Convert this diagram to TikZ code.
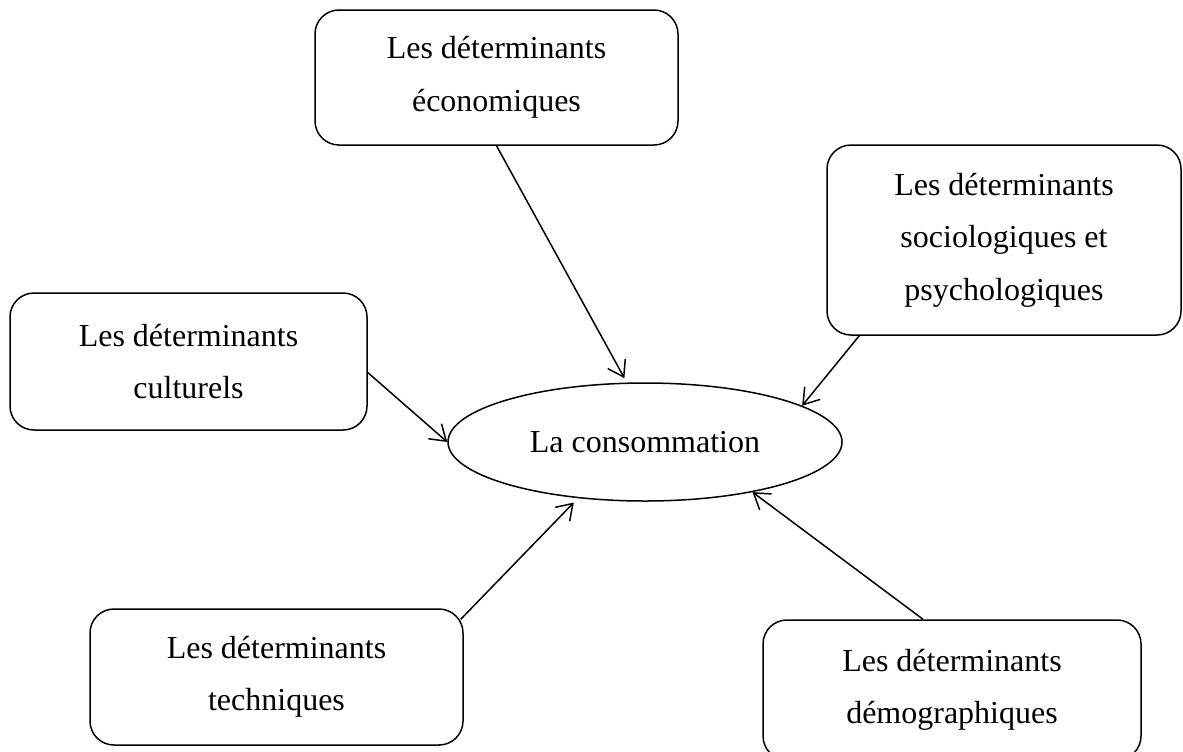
\documentclass[tikz,border=0pt]{standalone}
\usepackage{fontspec}
\setmainfont{Liberation Serif}
\usetikzlibrary{arrows.meta,shapes.geometric}

\begin{document}
\begin{tikzpicture}[>={Straight Barb[length=7.5pt,width=10pt]}, line width=0.75pt, x=0.5pt, y=-0.5pt,
		box/.style={draw, rounded corners=12pt, align=center, inner sep=0pt, font=\fontsize{16}{26.25}\selectfont},
		centro/.style={draw, ellipse, inner sep=0pt, font=\fontsize{16}{26.25}\selectfont}]
			% Definizioni per la pagina (in pixel)
			\def\W{1183}
			\def\H{751}
			\useasboundingbox (0,0) rectangle (\W,\H);
			
			% --- Nodi ---
			\node[box, minimum width=181.5pt, minimum height=67.5pt] (eco) at (496.5,77.5) {Les déterminants\\économiques};
			\node[box, minimum width=177pt, minimum height=95pt] (soc) at (1004,240) {Les déterminants\\sociologiques et\\psychologiques};
			\node[box, minimum width=178.5pt, minimum height=68.5pt] (cul) at (188.5,361.5) {Les déterminants\\culturels};
			\node[box, minimum width=186.5pt, minimum height=68pt] (tec) at (276.5,677) {Les déterminants\\techniques};
			\node[box, minimum width=189pt, minimum height=70pt] (dem) at (952,690) {Les déterminants\\démographiques};
			
			% --- Centro ---
			\node[centro, minimum width=197pt, minimum height=59pt] (cons) at (645,442) {La consommation};
			
			% --- Frecce ---
			\draw[->, shorten >=2.5pt] (eco.south) -- (cons.107);
			\draw[->] ([xshift=16.5pt]soc.south west) -- (cons.13);
			\draw[->] ([yshift=-5.5pt]cul.east) -- (cons.west);
			\draw[->, shorten >=3pt] ([xshift=-1.5pt,yshift=-5.5pt]tec.north east) -- (cons.220);
			\draw[->] ([xshift=-14.5pt]dem.north) -- (cons.-25);
		\end{tikzpicture}
\end{document}
